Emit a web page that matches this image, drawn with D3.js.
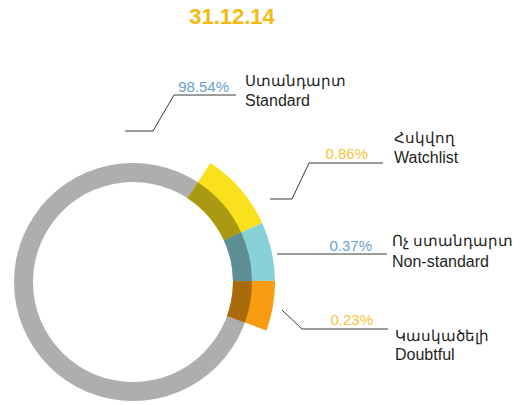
<!DOCTYPE html>
<html>
<head>
<meta charset="utf-8">
<script src="https://cdn.jsdelivr.net/npm/d3@7"></script>
<style>
  body { margin: 0; background: #fff; }
  #chart { width: 520px; height: 405px; }
  text { font-family: Arial, "Liberation Sans", "Noto Sans", sans-serif; }
</style>
</head>
<body>
<div id="chart"></div>
<script>
// chart data
var title = "31.12.14";
var categoriesHy = ["Ստանդարտ", "Հսկվող", "Ոչ ստանդարտ", "Կասկածելի"];
var categoriesEn = ["Standard", "Watchlist", "Non-standard", "Doubtful"];
var shares = [98.54, 0.86, 0.37, 0.23];

var width = 520, height = 405;
var cx = 133, cy = 282;
var rIn = 100, rRing = 119, rOut = 142;
var startDeg = 33;

var ringColor = "#aeadb0";
var segColors = ["#f9e11b", "#88d1d6", "#f89c12"];
var pctColors = ["#6b9fcb", "#f7c334", "#6b9fcb", "#f7c334"];

// label anchors: leader polyline + where the texts go
var labelLayout = [
    {line: [[125, 131], [153, 131], [174, 95], [236, 95]], pct: [229, 92], name: [245, 86, 106]},
    {line: [[270, 199], [292, 199], [309, 163], [383, 163]], pct: [368, 159], name: [394, 143, 163]},
    {line: [[277, 254], [387, 254]], pct: [372, 251], name: [392, 246, 267]},
    {line: [[282, 310], [302, 329], [388, 329]], pct: [373, 325], name: [395, 341, 360]}
];

var svg = d3.select("#chart")
    .append("svg")
    .attr("width", width)
    .attr("height", height);

svg.append("text")
    .attr("x", 232)
    .attr("y", 24)
    .attr("text-anchor", "middle")
    .style("font-size", "22px")
    .style("font-weight", "bold")
    .style("fill", "#f6b90f")
    .text(title);

var g = svg.append("g")
    .attr("transform", "translate(" + cx + "," + cy + ")");

// the big "standard" share is just the grey ring
g.append("path")
    .attr("d", d3.arc()({innerRadius: rIn, outerRadius: rRing, startAngle: 0, endAngle: 2 * Math.PI}))
    .attr("fill", ringColor);

// small shares get an exaggerated sweep
var sweep = d3.scalePow().exponent(0.35).domain([0, 0.86]).range([0, 32.4]);

var segs = [];
var a = startDeg;
for (var i = 1; i < shares.length; i++) {
    var s = sweep(shares[i]);
    segs.push({start: a * Math.PI / 180, end: (a + s) * Math.PI / 180, color: segColors[i - 1]});
    a += s;
}

var arcOuter = d3.arc().innerRadius(rIn).outerRadius(rOut)
    .startAngle(function(d) { return d.start; })
    .endAngle(function(d) { return d.end; });
var arcBand = d3.arc().innerRadius(rIn).outerRadius(rRing)
    .startAngle(function(d) { return d.start; })
    .endAngle(function(d) { return d.end; });

function multiply(c1, c2) {
    var a1 = d3.rgb(c1), a2 = d3.rgb(c2);
    return d3.rgb(a1.r * a2.r / 255, a1.g * a2.g / 255, a1.b * a2.b / 255).formatHex();
}

g.selectAll("path.seg")
    .data(segs)
    .enter().append("path")
    .attr("class", "seg")
    .attr("d", arcOuter)
    .attr("fill", function(d) { return d.color; });

g.selectAll("path.band")
    .data(segs)
    .enter().append("path")
    .attr("class", "band")
    .attr("d", arcBand)
    .attr("fill", function(d) { return multiply(d.color, ringColor); });

// labels
var line = d3.line();
labelLayout.forEach(function(l, i) {
    svg.append("path")
        .attr("d", line(l.line))
        .attr("fill", "none")
        .attr("stroke", "#3a3a3a")
        .attr("stroke-width", 1);

    svg.append("text")
        .attr("x", l.pct[0])
        .attr("y", l.pct[1])
        .attr("text-anchor", "end")
        .style("font-size", "15px")
        .style("fill", pctColors[i])
        .text(shares[i].toFixed(2) + "%");

    svg.append("text")
        .attr("x", l.name[0])
        .attr("y", l.name[1])
        .style("font-size", "14.5px")
        .style("fill", "#231f20")
        .text(categoriesHy[i]);

    svg.append("text")
        .attr("x", l.name[0])
        .attr("y", l.name[2])
        .style("font-size", "16px")
        .style("fill", "#231f20")
        .text(categoriesEn[i]);
});
</script>
</body>
</html>
